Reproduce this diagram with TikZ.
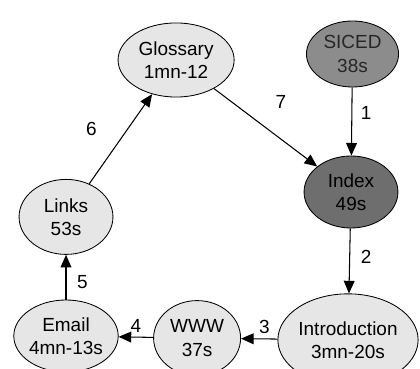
\documentclass[tikz,border=0pt]{standalone}
\usepackage{fontspec}
\setmainfont{Liberation Sans}
\usetikzlibrary{shapes.geometric,arrows.meta}

\definecolor{pagefill}{HTML}{E6E6E6}
\definecolor{sicedfill}{HTML}{8C8C8C}
\definecolor{indexfill}{HTML}{6E6E6E}

\begin{document}
\begin{tikzpicture}[
        page/.style={ellipse, draw, line width=0.8pt, fill=pagefill, align=center,
            inner sep=0pt, font=\fontsize{18}{22}\selectfont},
        link/.style={-{Triangle[length=0.42cm,width=0.36cm]}, line width=1pt},
        num/.style={font=\fontsize{18}{20}\selectfont, inner sep=1pt}]
        \clip (0, 0) rectangle (14, 12.3);

        \node[page, minimum width=3.87cm, minimum height=2.47cm] (glossary) at (5.87, 10.3) {Glossary\\1mn-12};
        \node[page, fill=sicedfill, text=black!85, minimum width=3.07cm, minimum height=2.2cm] (siced) at (11.75, 10.5) {SICED\\38s};
        \node[page, fill=indexfill, minimum width=3.13cm, minimum height=2.4cm] (index) at (11.7, 5.9) {Index\\49s};
        \node[page, minimum width=3.13cm, minimum height=2.5cm] (links) at (2.2, 5.07) {Links\\53s};
        \node[page, minimum width=3.13cm, minimum height=2.4cm] (email) at (2.2, 1.1) {Email\\4mn-13s};
        \node[page, minimum width=2.9cm, minimum height=2.5cm] (www) at (6.57, 1.03) {WWW\\37s};
        \node[page, minimum width=4.4cm, minimum height=3.07cm] (intro) at (11.6, 0.97) {Introduction\\3mn-20s};

        % visit order
        \draw[link] (siced) -- node[num, pos=.37, right=7pt] {1} (index);
        \draw[link] (index) -- node[num, pos=.44, right=9pt] {2} (intro);
        \draw[link] (intro) -- node[num, pos=.36, above=3pt] {3} (www);
        \draw[link] (www) -- node[num, pos=.5, above=3pt] {4} (email);
        \draw[link] (email) -- node[num, pos=.4, right=9pt] {5} (links);
        \draw[link] (links) -- node[num, pos=.48, above left=3pt, xshift=-17pt] {6} (glossary);
        \draw[link] (glossary) -- node[num, pos=.5, above right=8pt, yshift=9pt] {7} (index);
    \end{tikzpicture}
\end{document}
